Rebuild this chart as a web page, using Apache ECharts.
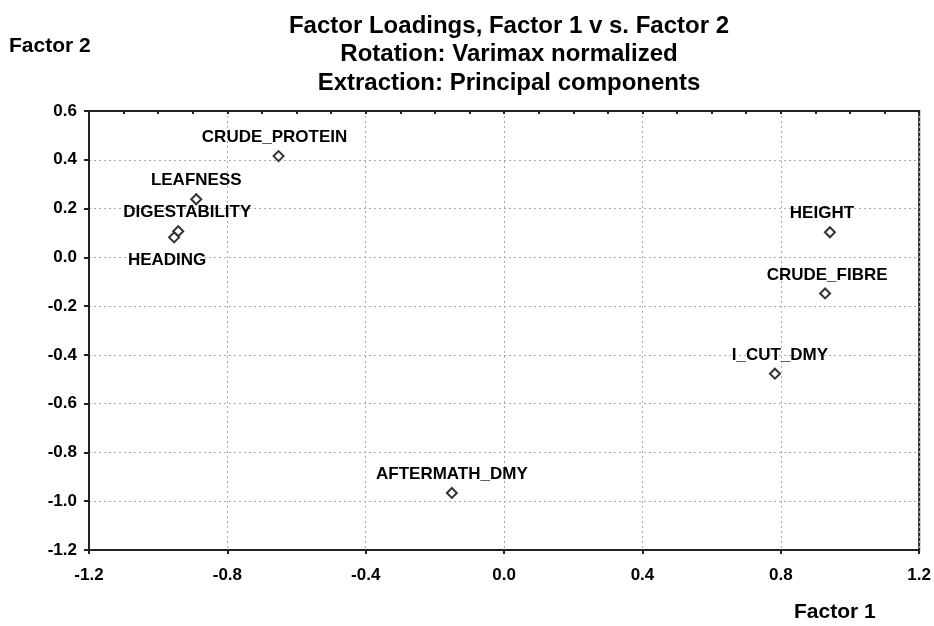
<!DOCTYPE html>
<html><head><meta charset="utf-8">
<script src="https://cdn.jsdelivr.net/npm/echarts@6/dist/echarts.min.js"></script>
<style>html,body{margin:0;padding:0;background:#fff}#c{width:934px;height:626px}</style>
</head><body><div id="c"></div>
<script>
const names = ["CRUDE_PROTEIN","LEAFNESS","DIGESTABILITY","HEADING","HEIGHT","CRUDE_FIBRE","I_CUT_DMY","AFTERMATH_DMY"];
const factor1 = [-0.652,-0.89,-0.942,-0.954,0.942,0.928,0.783,-0.151];
const factor2 = [0.415,0.238,0.107,0.082,0.103,-0.148,-0.477,-0.966];
const labelPos = ["top","top","top","bottom","top","top","top","top"];
const labelOffset = [[-4,0],[0,0],[9,0],[-7,4],[-8,0],[2,0],[5,0],[0,0]];
const xTicks = [-1.2,-0.8,-0.4,0.0,0.4,0.8,1.2];
const yTicks = [0.6,0.4,0.2,0.0,-0.2,-0.4,-0.6,-0.8,-1.0,-1.2];

const font = "'Liberation Sans', Arial, sans-serif";
const chart = echarts.init(document.getElementById('c'));
const data = names.map((n,i)=>({
  value:[factor1[i],factor2[i]], name:n,
  label:{position:labelPos[i], offset:labelOffset[i]}
}));
chart.setOption({
  animation:false,
  title:{
    text:"Factor Loadings, Factor 1 v s. Factor 2\nRotation: Varimax normalized\nExtraction: Principal components",
    left:504, top:7, textAlign:'center',
    textStyle:{fontFamily:font,fontWeight:'bold',fontSize:24,lineHeight:28.5,color:'#000'}
  },
  graphic:[
    {type:'text',left:9,top:36,style:{text:'Factor 2',font:"bold 21px 'Liberation Sans', Arial",fill:'#000'}},
    {type:'text',left:794,top:602,style:{text:'Factor 1',font:"bold 21px 'Liberation Sans', Arial",fill:'#000'}}
  ],
  grid:{left:89,right:14,top:111,bottom:76,show:true,borderColor:'#222',borderWidth:2},
  xAxis:[{
    type:'value',min:-1.2,max:1.2,interval:0.4,
    axisLine:{show:true,onZero:false,lineStyle:{color:'#222',width:2}},
    axisTick:{show:true,inside:false,length:4,lineStyle:{color:'#222',width:2}},
    axisLabel:{margin:17,fontFamily:font,fontWeight:'bold',fontSize:17,color:'#000',
      formatter:v=>v.toFixed(1)},
    splitLine:{show:true,lineStyle:{color:'#aaa',type:[2,3],width:1}}
  },{
    type:'value',position:'top',min:-1.2,max:1.2,interval:0.1,
    axisLine:{show:true,onZero:false,lineStyle:{color:'#222',width:2}},
    axisTick:{show:true,inside:true,length:3,lineStyle:{color:'#222',width:2}},
    axisLabel:{show:false},splitLine:{show:false}
  }],
  yAxis:{
    type:'value',min:-1.2,max:0.6,interval:0.2,
    axisLine:{show:true,onZero:false,lineStyle:{color:'#222',width:2}},
    axisTick:{show:true,length:5,lineStyle:{color:'#222',width:2}},
    axisLabel:{margin:12,fontFamily:font,fontWeight:'bold',fontSize:17,color:'#000',
      formatter:v=>v.toFixed(1)},
    splitLine:{show:true,lineStyle:{color:'#aaa',type:[2,3],width:1}}
  },
  series:[{
    type:'scatter',xAxisIndex:0,data:data,
    symbol:'diamond',symbolSize:10,
    itemStyle:{color:'#fff',borderColor:'#333',borderWidth:2,opacity:1},
    label:{show:true,formatter:p=>p.name,distance:4,
      fontFamily:font,fontWeight:'bold',fontSize:17,color:'#000'}
  }]
});
</script></body></html>
